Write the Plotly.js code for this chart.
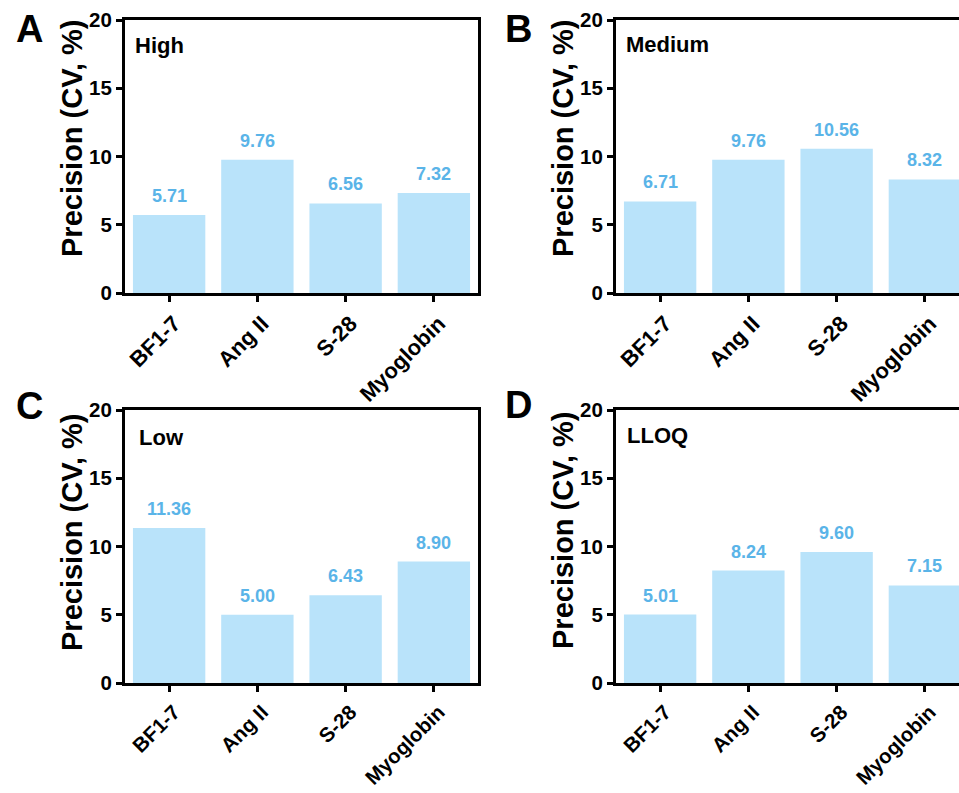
<!DOCTYPE html>
<html>
<head>
<meta charset="utf-8">
<script src="https://cdn.plot.ly/plotly-3.0.1.min.js"></script>
<style>html,body{margin:0;padding:0;background:#fff;}#chart{width:959px;height:793px;}</style>
</head>
<body>
<div id="chart"></div>
<script>
// ---- data ----
const categories = ['BF1-7', 'Ang II', 'S-28', 'Myoglobin'];
const highValues = [5.71, 9.76, 6.56, 7.32];
const mediumValues = [6.71, 9.76, 10.56, 8.32];
const lowValues = [11.36, 5.00, 6.43, 8.90];
const lloqValues = [5.01, 8.24, 9.60, 7.15];
const panelNames = ['High', 'Medium', 'Low', 'LLOQ'];
const panelLetters = ['A', 'B', 'C', 'D'];
const yTickValues = [0, 5, 10, 15, 20];
const yTitle = 'Precision (CV, %)';

// ---- styling / layout ----
const W = 959, H = 793;
const px = x => x / W;
const py = y => 1 - y / H;
const FONT = 'Liberation Sans, Arial, Helvetica, sans-serif';
const BAR_COLOR = '#B9E3FA';
const LABEL_COLOR = '#5AB4E8';
const CAT_SPACING = 88.25;

const seriesList = [highValues, mediumValues, lowValues, lloqValues];
const boxes = [
  {x0: 125, x1: 478, y0: 20, y1: 293, mirrorY: true, nameX: 133, nameY: 45, letterX: 29, letterY: 29, titleY: 139, xfs: 22},
  {x0: 616, x1: 959, y0: 20, y1: 293, mirrorY: false, nameX: 624, nameY: 44, letterX: 518, letterY: 29, titleY: 139, xfs: 22},
  {x0: 125, x1: 478, y0: 410, y1: 683, mirrorY: true, nameX: 137, nameY: 437, letterX: 29, letterY: 406, titleY: 533, xfs: 20.5},
  {x0: 616, x1: 959, y0: 410, y1: 683, mirrorY: false, nameX: 625, nameY: 435, letterX: 518, letterY: 405, titleY: 531, xfs: 20.5}
];

const data = [];
const layout = {
  width: W, height: H,
  margin: {l: 0, r: 0, t: 0, b: 0},
  paper_bgcolor: '#fff', plot_bgcolor: '#fff',
  showlegend: false,
  bargap: 0.18,
  font: {family: FONT, color: '#000'},
  annotations: []
};

seriesList.forEach((vals, i) => {
  const s = i === 0 ? '' : String(i + 1);
  const b = boxes[i];
  data.push({
    type: 'bar', x: categories, y: vals,
    xaxis: 'x' + s, yaxis: 'y' + s,
    width: 0.82,
    marker: {color: BAR_COLOR, line: {width: 0}},
    hoverinfo: 'x+y', showlegend: false
  });
  layout['xaxis' + s] = {
    domain: [px(b.x0), px(b.x1)],
    anchor: 'y' + s,
    type: 'category',
    categoryorder: 'array', categoryarray: categories,
    range: [-0.5, -0.5 + (b.x1 - b.x0) / CAT_SPACING],
    showline: true, linewidth: 3, linecolor: '#000', mirror: true,
    ticks: 'outside', ticklen: 6, tickwidth: 3, tickcolor: '#000',
    tickangle: -45,
    ticklabelshift: 5,
    tickfont: {family: FONT, size: b.xfs, weight: 'bold', color: '#000'},
    showgrid: false, zeroline: false, fixedrange: true
  };
  layout['yaxis' + s] = {
    domain: [py(b.y1), py(b.y0)],
    anchor: 'x' + s,
    range: [0, 20],
    tickvals: yTickValues,
    showline: true, linewidth: 3, linecolor: '#000', mirror: b.mirrorY,
    ticks: 'outside', ticklen: 6, tickwidth: 3, tickcolor: '#000',
    tickfont: {family: FONT, size: 20.5, weight: 'bold', color: '#000'},
    showgrid: false, zeroline: false, fixedrange: true
  };
  // value labels
  vals.forEach((v, j) => {
    layout.annotations.push({
      xref: 'x' + s, yref: 'y' + s, x: categories[j], y: v,
      text: v.toFixed(2), showarrow: false,
      xanchor: 'center', yanchor: 'bottom', yshift: 7,
      font: {family: FONT, size: 18, weight: 'bold', color: LABEL_COLOR}
    });
  });
  // panel name
  layout.annotations.push({
    xref: 'paper', yref: 'paper', x: px(b.nameX), y: py(b.nameY),
    text: panelNames[i], showarrow: false, xanchor: 'left', yanchor: 'middle',
    font: {family: FONT, size: 22, weight: 'bold', color: '#000'}
  });
  // panel letter
  layout.annotations.push({
    xref: 'paper', yref: 'paper', x: px(b.letterX), y: py(b.letterY),
    text: panelLetters[i], showarrow: false, xanchor: 'center', yanchor: 'middle',
    font: {family: FONT, size: 38, weight: 'bold', color: '#000'}
  });
  // y axis title
  layout.annotations.push({
    xref: 'paper', yref: 'paper', x: px(b.x0 - 53), y: py(b.titleY),
    text: yTitle, showarrow: false, textangle: -90,
    xanchor: 'center', yanchor: 'middle',
    font: {family: FONT, size: 29, weight: 'bold', color: '#000'}
  });
});

Plotly.newPlot('chart', data, layout, {staticPlot: true, displayModeBar: false});
</script>
</body>
</html>
